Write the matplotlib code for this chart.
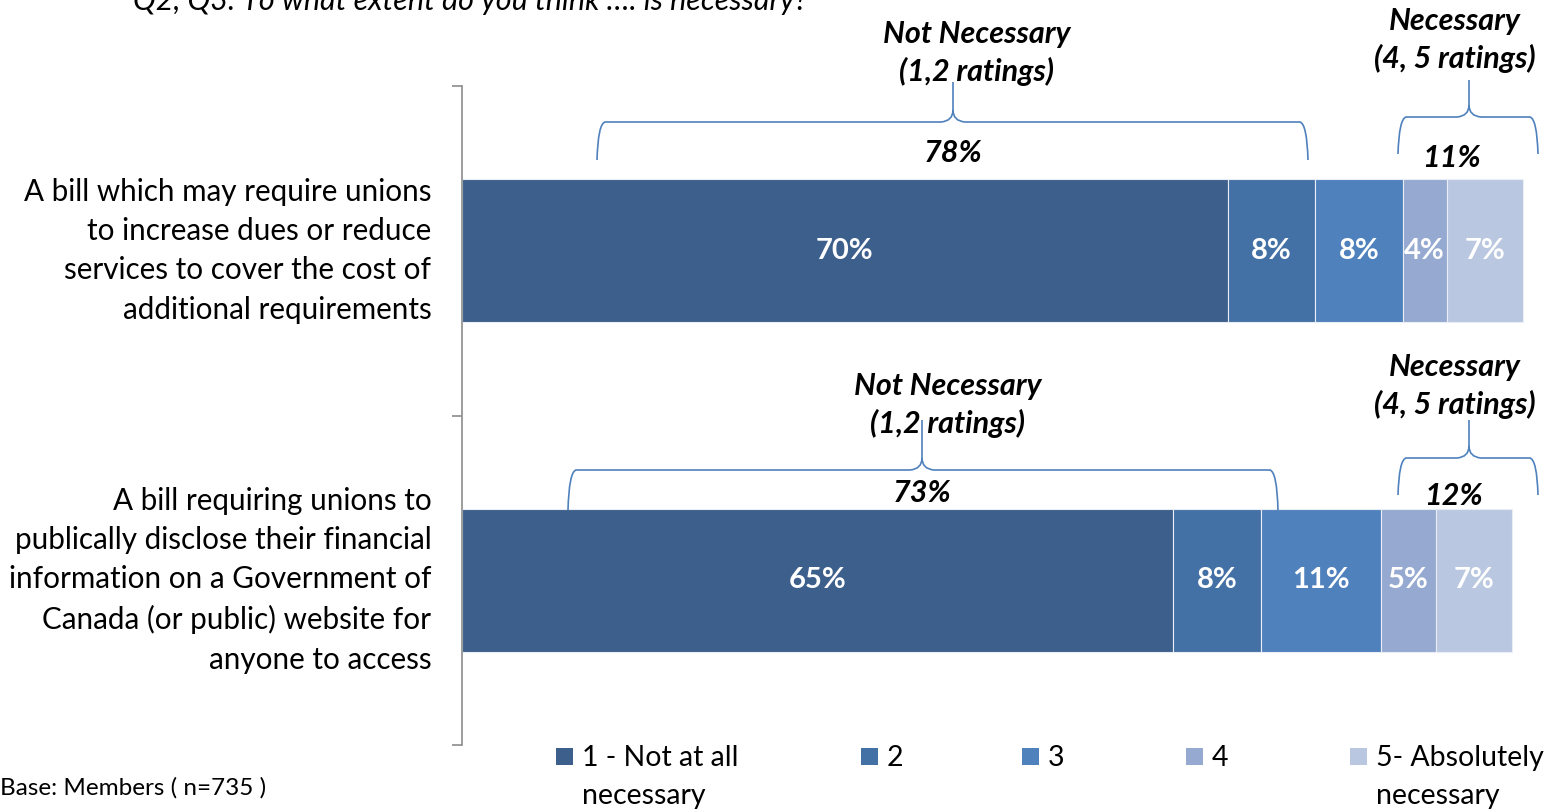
import numpy as np
import matplotlib
matplotlib.use("Agg")
import matplotlib.pyplot as plt
from matplotlib.patches import PathPatch, Rectangle
from matplotlib.path import Path
from matplotlib.transforms import Affine2D

# survey data
questions = [
    "A bill which may require unions\nto increase dues or reduce\nservices to cover the cost of\nadditional requirements",
    "A bill requiring unions to\npublically disclose their financial\ninformation on a Government of\nCanada (or public) website for\nanyone to access",
]
ratings = ["1 - Not at all\nnecessary", "2", "3", "4", "5- Absolutely\nnecessary"]
q1 = [70, 8, 8, 4, 7]
q2 = [65, 8, 11, 5, 7]
colors = ["#3C5F8C", "#4471A5", "#4F81BD", "#95A9D1", "#BAC7E0"]

W, H = 1549, 809
fig = plt.figure(figsize=(W / 100, H / 100), dpi=100)
# pixel coords, origin top-left
pix = Affine2D().scale(1 / W, -1 / H).translate(0, 1) + fig.transFigure

body = "Lato"

ax = fig.add_axes([462 / W, (H - 745) / H, (1540 - 462) / W, (745 - 86) / H])
data = np.array([q1, q2])
y = np.arange(len(questions))
left = np.zeros(len(questions))
for j in range(len(ratings)):
    ax.barh(y, data[:, j], left=left, height=0.434, color=colors[j],
            edgecolor="#E9EDF5", linewidth=0.8)
    for i in range(len(questions)):
        ax.text(left[i] + data[i, j] / 2, y[i], f"{data[i, j]}%", ha="center", va="center",
                color="white", fontsize=21, fontweight="bold", family=body)
    left += data[:, j]

ax.set_xlim(0, (1540 - 462) / 10.94)
ax.set_ylim(1.5, -0.5)
ax.xaxis.set_visible(False)
for s in ["top", "right", "bottom"]:
    ax.spines[s].set_visible(False)
ax.spines["left"].set_color("#8C8C8C")
ax.spines["left"].set_linewidth(1.2)
ax.set_yticks(y)
ax.set_yticklabels(questions, fontsize=21.3, family=body)
ax.tick_params(axis="y", which="major", length=0, pad=22)
ax.set_yticks([-0.5, 0.5, 1.5], minor=True)
ax.tick_params(axis="y", which="minor", length=7, color="#8C8C8C", width=1.2)
for lbl in ax.get_yticklabels():
    lbl.set_linespacing(1.49)
    lbl.set_verticalalignment("center")


def brace(x0, x1, xc, ytop, ybot, ypeak):
    verts = [(x0, ybot), (x0 + 1, ytop + 2), (x0 + 8, ytop),
             (xc - 12, ytop), (xc, ytop - 1), (xc, ytop - 12), (xc, ypeak),
             (xc, ytop - 12), (xc, ytop - 1), (xc + 12, ytop),
             (x1 - 8, ytop), (x1 - 1, ytop + 2), (x1, ybot)]
    codes = [Path.MOVETO, Path.CURVE3, Path.CURVE3,
             Path.LINETO, Path.CURVE3, Path.CURVE3, Path.LINETO,
             Path.MOVETO, Path.CURVE3, Path.CURVE3,
             Path.LINETO, Path.CURVE3, Path.CURVE3]
    fig.patches.append(PathPatch(Path(verts, codes), transform=pix, fill=False,
                                 edgecolor="#4F81BD", linewidth=1.2))


def note(x, yy, s, size=22):
    fig.text(x, yy, s, transform=pix, ha="center", va="center", fontsize=size,
             fontweight="bold", style="italic", family=body, linespacing=1.4)


not_nec = data[:, 0] + data[:, 1]
nec = data[:, 3] + data[:, 4]

# first question
brace(597, 1308, 953, 122, 160, 82)
brace(1398, 1538, 1469, 117, 154, 80)
note(977, 53, "Not Necessary\n(1,2 ratings)")
note(1455, 40, "Necessary\n(4, 5 ratings)")
note(953, 153, f"{not_nec[0]}%")
note(1451, 158, f"{nec[0]}%")

# second question
brace(568, 1278, 922, 470, 510, 420)
brace(1398, 1538, 1469, 458, 495, 420)
note(948, 405, "Not Necessary\n(1,2 ratings)")
note(1455, 386, "Necessary\n(4, 5 ratings)")
note(922, 493, f"{not_nec[1]}%")
note(1453, 496, f"{nec[1]}%")

fig.text(133, 10, "Q2, Q3. To what extent do you think \u2026. is necessary?", transform=pix,
         ha="left", va="baseline", fontsize=22, style="italic", family=body)
fig.text(0, 788, "Base: Members ( n=735 )", transform=pix, ha="left", va="center",
         fontsize=17.5, family=body)

# legend row under the bars
key_x = [556, 861, 1022, 1186, 1350]
for kx, c, lab in zip(key_x, colors, ratings):
    fig.patches.append(Rectangle((kx, 748), 17, 17, transform=pix, facecolor=c,
                                 edgecolor="none"))
    fig.text(kx + 26, 745, lab, transform=pix, ha="left", va="top", fontsize=20.5,
             family=body, linespacing=1.55)

fig.savefig("out.png", dpi=100)
